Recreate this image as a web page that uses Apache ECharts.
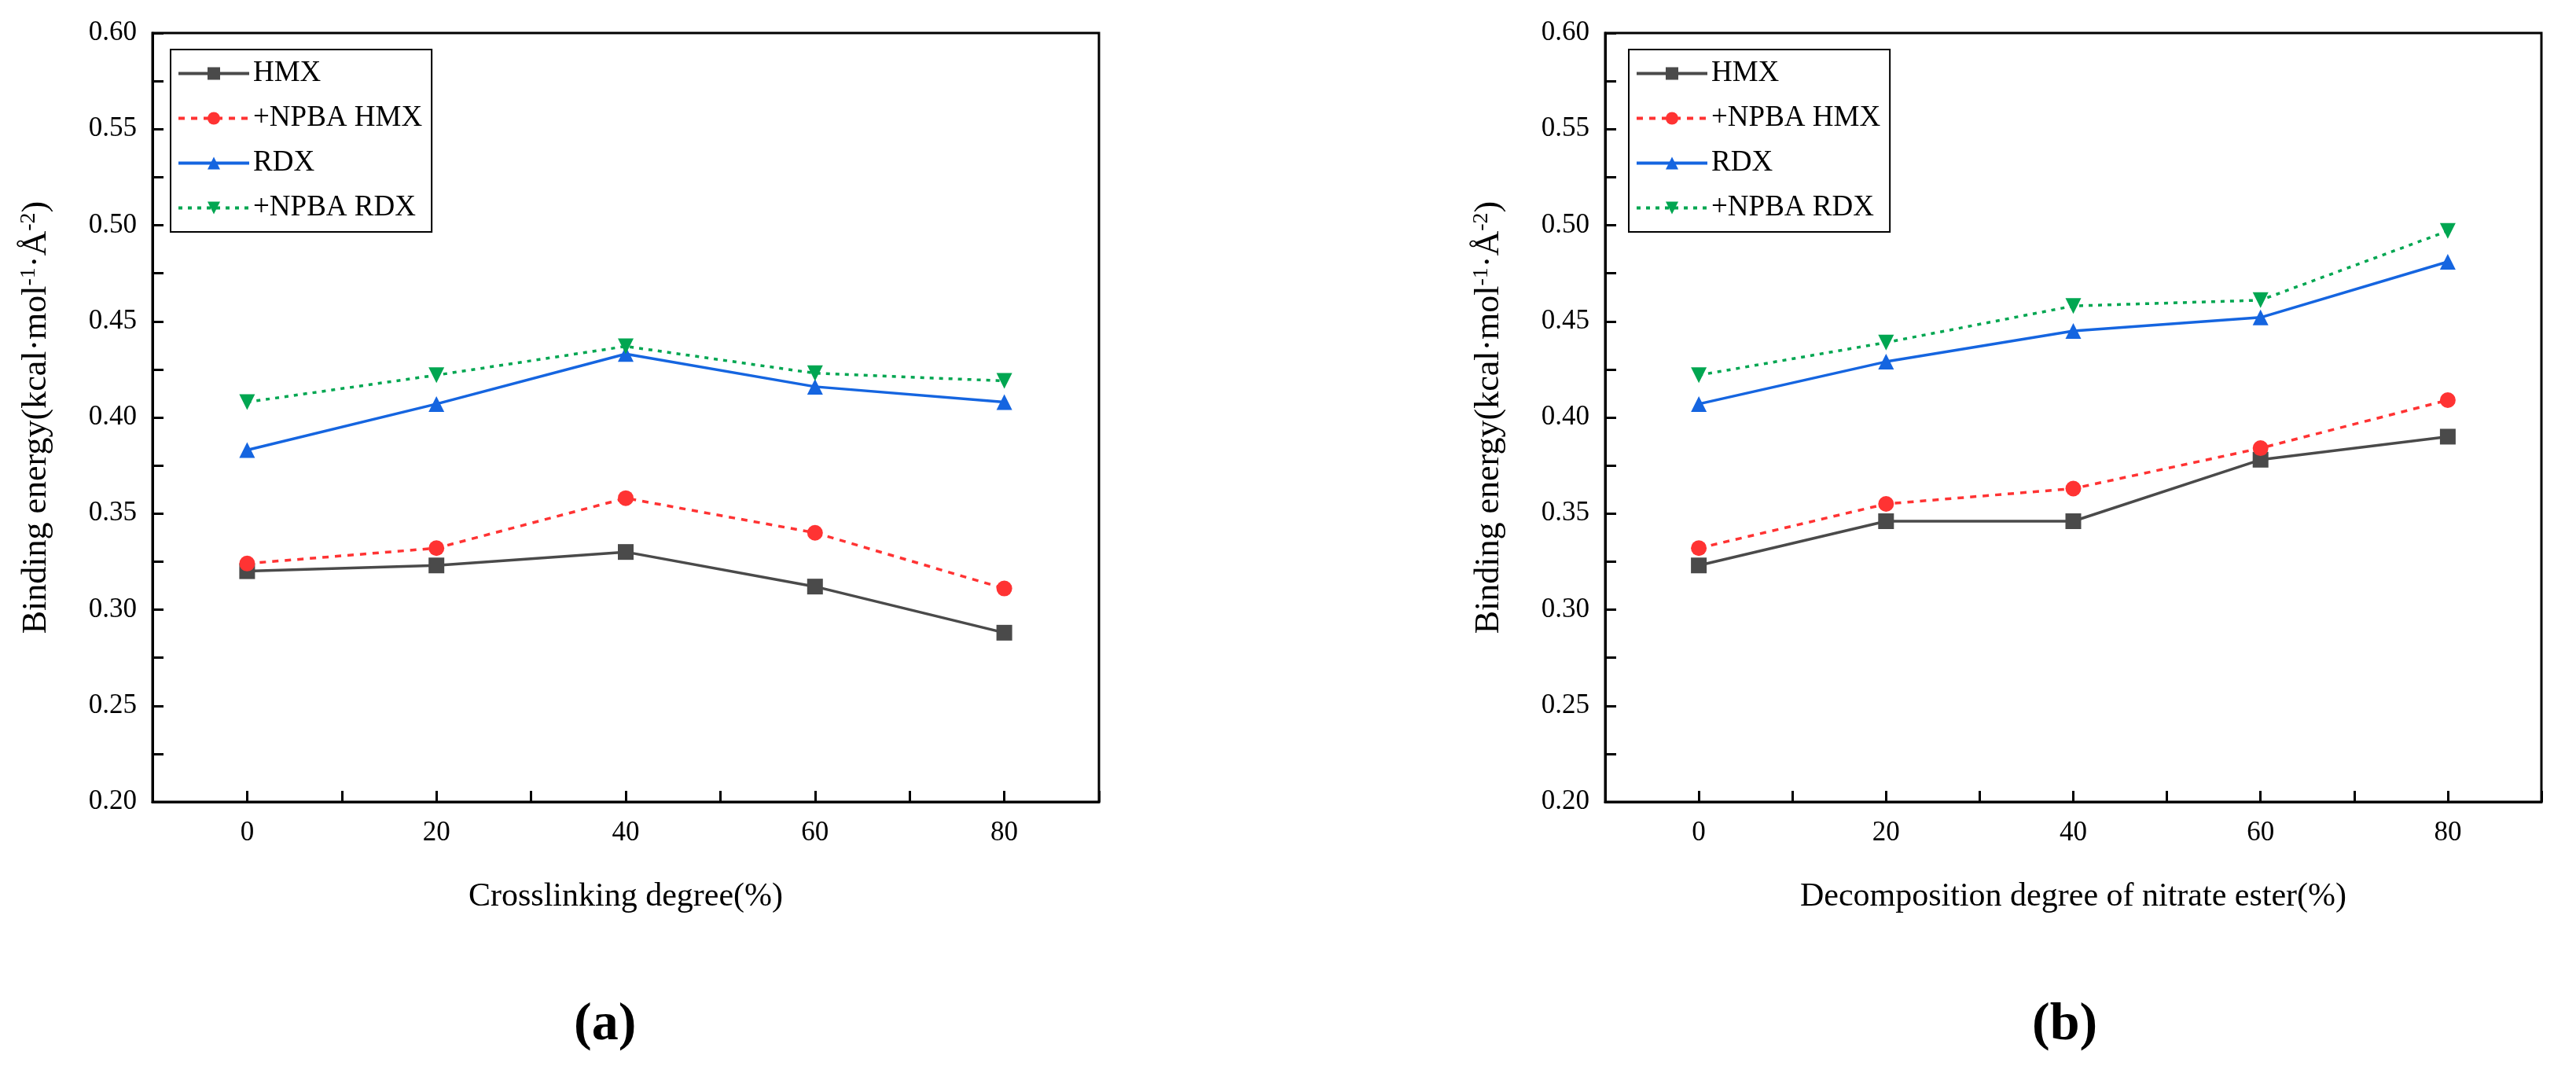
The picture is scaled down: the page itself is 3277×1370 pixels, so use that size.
<!DOCTYPE html>
<html><head><meta charset="utf-8">
<script src="https://cdn.jsdelivr.net/npm/echarts@6/dist/echarts.min.js"></script>
<style>html,body{margin:0;background:#fff}#c{width:3277px;height:1370px}</style></head>
<body><div id="c"></div>
<script>
const xValues=[0,20,40,60,80];
const seriesNames=['HMX','+NPBA HMX','RDX','+NPBA RDX'];
const aHMX=[0.320,0.323,0.330,0.312,0.288];
const aNPBAHMX=[0.324,0.332,0.358,0.340,0.311];
const aRDX=[0.383,0.407,0.433,0.416,0.408];
const aNPBARDX=[0.408,0.422,0.437,0.423,0.419];
const bHMX=[0.323,0.346,0.346,0.378,0.390];
const bNPBAHMX=[0.332,0.355,0.363,0.384,0.409];
const bRDX=[0.407,0.429,0.445,0.452,0.481];
const bNPBARDX=[0.422,0.439,0.458,0.461,0.497];
const xTitles=['Crosslinking degree(%)','Decomposition degree of nitrate ester(%)'];
const panelLabels=['(a)','(b)'];

const F='Liberation Serif';
const colors=['#4a4a4a','#ff3333','#1565e0','#00a651'];
const lineTypes=['solid',[8,8],'solid',[5,7]];
const symbols=['rect','circle','triangle','path://M0,0 L10,0 L5,9 Z'];
const grids=[{left:194,width:1204,top:42,height:978,show:true,borderColor:'#000',borderWidth:3},
             {left:2042,width:1191,top:42,height:978,show:true,borderColor:'#000',borderWidth:3}];
const data=[[aHMX,aNPBAHMX,aRDX,aNPBARDX],[bHMX,bNPBAHMX,bRDX,bNPBARDX]];
const xAxis=[],yAxis=[],series=[],legend=[],graphic=[];
[0,1].forEach(p=>{
  xAxis.push({type:'value',gridIndex:p,min:-10,max:90,interval:10,
    name:xTitles[p],nameLocation:'middle',nameGap:100,
    nameTextStyle:{fontFamily:F,fontSize:42,color:'#000'},
    axisLine:{onZero:false,lineStyle:{color:'#000',width:3}},
    axisTick:{inside:true,length:14,lineStyle:{width:3}},splitLine:{show:false},
    axisLabel:{fontFamily:F,fontSize:35,color:'#000',margin:22,formatter:v=>(v>=0&&v%20===0)?String(v):''}});
  yAxis.push({type:'value',gridIndex:p,min:0.20,max:0.60,interval:0.025,
    name:'Binding energy(kcal·mol{s|-1}·Å{s|-2})',nameLocation:'middle',nameGap:125,nameRotate:90,
    nameTextStyle:{fontFamily:F,fontSize:44,color:'#000',rich:{s:{fontFamily:F,fontSize:28,color:'#000',verticalAlign:'top',padding:[0,0,18,0]}}},
    axisLine:{onZero:false,lineStyle:{color:'#000',width:3}},
    axisTick:{inside:true,length:14,lineStyle:{width:3}},splitLine:{show:false},
    axisLabel:{fontFamily:F,fontSize:35,color:'#000',margin:20,formatter:v=>{const r=Math.round(v*1000);return r%50===0?v.toFixed(2):'';}}});
  data[p].forEach((d,i)=>{
    series.push({name:seriesNames[i],type:'line',xAxisIndex:p,yAxisIndex:p,
      data:xValues.map((x,k)=>[x,d[k]]),symbol:symbols[i],symbolSize:20,
      lineStyle:{color:colors[i],width:3.5,type:lineTypes[i]},itemStyle:{color:colors[i]}});
  });
  legend.push({show:true,orient:'vertical',left:p?2072:217,top:63,
    data:seriesNames.map(n=>({name:n})),
    borderColor:'#000',borderWidth:2,padding:[12,12,12,8],itemGap:20,itemWidth:90,itemHeight:20,
    lineStyle:{width:4},
    textStyle:{fontFamily:F,fontSize:37,color:'#000'}});
  graphic.push({type:'text',left:p?2585:730,top:1270,style:{text:panelLabels[p],font:'bold 68px "Liberation Serif"',fill:'#000'}});
});
const chart=echarts.init(document.getElementById('c'));
chart.setOption({animation:false,backgroundColor:'#fff',grid:grids,xAxis,yAxis,series,legend,graphic});
</script></body></html>
